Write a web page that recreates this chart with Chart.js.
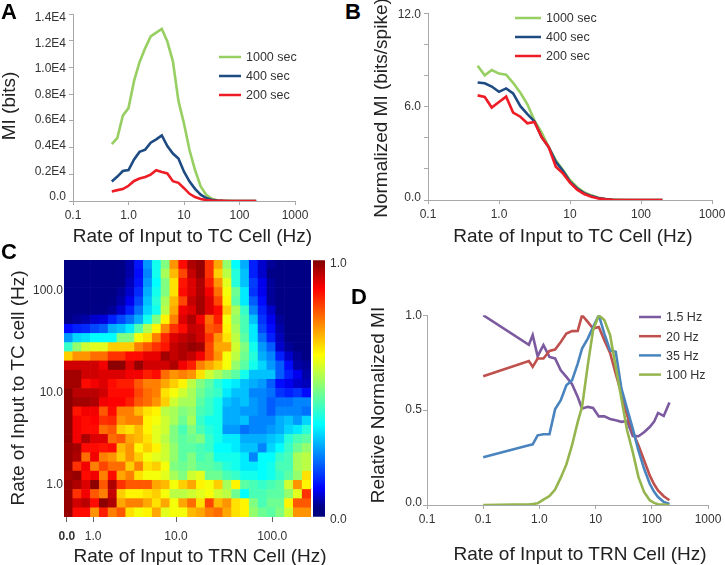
<!DOCTYPE html>
<html>
<head>
<meta charset="utf-8">
<script src="https://cdn.jsdelivr.net/npm/chart.js@4/dist/chart.umd.min.js"></script>
<style>
  html, body { margin: 0; background: #fff; }
  #page { position: relative; width: 725px; height: 565px; overflow: hidden; font-family: "Liberation Sans", Arial, sans-serif; }
  canvas { position: absolute; }
  .txt { position: absolute; line-height: 1; white-space: nowrap; color: #222; transform: translate(-50%, -50%); }
  .letter { position: absolute; line-height: 1; font-weight: bold; font-size: 22px; color: #000; }
</style>
</head>
<body>
<div id="page"></div>
<script>
// rates on the x axis of panels A and B (Hz)
const rateTC = [0.5, 0.63, 0.79, 1, 1.26, 1.58, 2, 2.51, 3.16, 3.98, 5.01, 6.31, 7.94, 10, 12.6, 15.8, 20, 25.1, 31.6, 39.8, 50.1, 63.1, 79.4, 100, 126, 158, 200];

const miA1000 = [4270, 4740, 6400, 6960, 9000, 10400, 11460, 12330, 12620, 12900, 11950, 10470, 7500, 5800, 3800, 2320, 1090, 470, 170, 50, 25, 10, 0, 0, 0, 0, 0];
const miA400 = [1460, 1830, 2250, 2320, 3110, 3680, 3850, 4370, 4620, 4915, 4120, 3560, 3190, 2200, 1460, 910, 470, 220, 100, 40, 15, 5, 0, 0, 0, 0, 0];
const miA200 = [720, 815, 890, 1140, 1500, 1680, 1800, 1980, 2300, 2170, 2070, 1480, 1360, 960, 540, 300, 150, 70, 40, 20, 10, 0, 0, 0, 0, 0, 0];

const normB1000 = [8.63, 8.01, 8.35, 8.12, 8.05, 7.53, 6.89, 6.15, 5.1, 4.35, 3.4, 2.56, 1.92, 1.29, 0.82, 0.5, 0.3, 0.15, 0.06, 0.03, 0.01, 0, 0, 0, 0, 0, 0];
const normB400 = [7.55, 7.5, 7.29, 6.95, 7.17, 6.85, 6.03, 5.52, 5.05, 4.04, 3.4, 2.45, 1.88, 1.18, 0.74, 0.44, 0.25, 0.13, 0.06, 0.02, 0, 0, 0, 0, 0, 0, 0];
const normB200 = [6.72, 6.62, 5.94, 6.3, 6.64, 5.62, 5.35, 4.93, 5.01, 4.04, 3.4, 2.14, 1.71, 1.12, 0.66, 0.38, 0.21, 0.1, 0.04, 0.01, 0, 0, 0, 0, 0, 0, 0];

// rates on the x axis of panel D (Hz)
const rateTRN = [0.1, 0.65, 0.76, 0.93, 1.18, 1.51, 1.9, 2.4, 3.02, 3.81, 4.81, 5.74, 7.25, 9.02, 11.4, 14.3, 18.1, 22.8, 28.8, 36.3, 45.8, 57.8, 72.8, 91.9, 110, 129, 163, 206];

const relD1p5 = [1, 0.844, 0.895, 0.784, 0.842, 0.78, 0.772, 0.71, 0.675, 0.636, 0.569, 0.508, 0.517, 0.511, 0.467, 0.467, 0.453, 0.446, 0.438, 0.443, 0.364, 0.362, 0.383, 0.411, 0.439, 0.485, 0.469, 0.54];
const relD20 = [0.678, 0.759, 0.728, 0.772, 0.772, 0.812, 0.819, 0.859, 0.903, 0.916, 0.917, 1, 0.965, 0.93, 0.938, 0.868, 0.801, 0.692, 0.587, 0.473, 0.385, 0.315, 0.236, 0.156, 0.109, 0.077, 0.046, 0.025];
const relD35 = [0.251, 0.315, 0.32, 0.367, 0.373, 0.373, 0.504, 0.552, 0.631, 0.657, 0.745, 0.824, 0.877, 0.938, 1, 0.903, 0.815, 0.807, 0.613, 0.508, 0.402, 0.288, 0.192, 0.112, 0.069, 0.042, 0.016, 0.005];
const relD100 = [0, 0.004, 0.005, 0.009, 0.028, 0.047, 0.081, 0.144, 0.214, 0.315, 0.438, 0.517, 0.736, 0.921, 1, 0.974, 0.895, 0.728, 0.561, 0.394, 0.279, 0.148, 0.069, 0.025, 0.011, 0.004, 0.002, 0];

// panel C, percent of max, top row first
const heatRows = [
  [3,3,3,3,3,3,4,6,13,26,38,50,74,88,96,98,84,72,52,36,28,14,8,5,3,3,3,3],
  [3,3,3,3,3,3,4,6,12,24,38,54,70,82,94,98,84,68,56,40,30,14,8,4,3,3,3,3],
  [3,3,3,3,3,3,4,7,13,26,36,50,66,87,92,96,86,74,60,40,30,17,10,5,3,3,3,3],
  [3,3,3,3,3,3,5,8,15,28,38,50,66,88,92,96,90,78,62,48,34,16,10,5,3,3,3,3],
  [3,3,3,3,3,4,6,10,18,30,40,54,70,82,94,97,92,82,64,46,34,20,12,5,3,3,3,3],
  [3,3,3,4,4,5,8,14,22,32,38,56,72,90,92,97,92,88,68,54,42,24,14,8,4,3,3,3],
  [4,5,6,8,9,14,18,22,28,38,50,64,76,92,96,90,78,86,62,52,44,30,16,10,5,3,3,3],
  [12,14,15,18,20,28,30,34,45,55,64,75,84,88,94,93,80,82,64,54,44,34,18,12,6,3,3,3],
  [26,32,33,36,36,36,50,50,62,66,76,85,92,94,96,93,84,74,66,56,46,34,22,14,7,4,3,3],
  [42,52,58,60,60,68,68,68,76,80,84,87,94,96,98,97,82,72,72,58,50,38,26,20,8,5,3,3],
  [68,74,74,78,78,84,84,88,88,91,91,97,94,96,94,90,82,74,62,56,48,40,28,24,14,8,5,4],
  [93,93,93,93,90,99,99,92,98,93,93,93,96,90,86,76,72,68,62,52,46,38,32,26,20,12,6,5],
  [97,97,93,93,92,92,92,90,90,86,88,78,74,76,74,66,58,54,50,46,38,30,30,30,20,14,10,6],
  [97,97,88,90,92,88,86,86,80,76,76,72,68,64,56,50,46,40,36,34,30,28,26,20,12,10,8,7],
  [99,95,95,95,93,88,88,88,82,78,76,66,62,58,54,48,44,42,34,30,30,24,24,22,16,14,16,12],
  [99,97,97,96,90,89,89,86,80,78,74,68,58,54,54,46,42,38,30,28,30,26,24,20,22,22,24,24],
  [99,87,90,90,80,88,76,76,70,66,64,56,54,50,52,44,42,38,28,28,26,26,24,20,24,24,24,22],
  [99,90,88,89,84,85,74,76,76,64,62,58,54,48,54,42,38,38,28,28,30,24,24,24,28,30,26,32],
  [99,90,88,88,78,80,68,66,70,64,60,58,50,44,50,44,40,38,26,26,22,24,24,26,28,32,34,40],
  [99,90,96,92,92,78,80,72,70,66,60,56,50,46,48,50,42,38,34,34,28,28,28,30,32,40,44,46],
  [98,97,88,88,87,88,70,74,64,68,64,58,52,46,46,44,42,36,36,34,30,30,24,32,36,42,48,52],
  [98,96,78,90,76,74,68,74,68,62,60,58,52,46,50,44,46,38,38,38,34,24,36,36,42,44,54,56],
  [98,84,90,76,82,78,78,68,76,66,68,62,50,48,50,46,46,44,40,38,34,34,36,38,44,44,54,56],
  [97,98,88,90,76,88,72,76,66,62,62,60,54,50,58,60,48,48,44,42,38,38,36,38,42,46,52,66],
  [98,96,92,99,80,96,84,80,80,80,72,70,62,68,72,64,62,68,54,64,46,44,42,44,46,58,74,64],
  [98,84,90,80,76,94,68,64,64,66,68,62,56,56,58,60,62,58,56,48,36,44,44,46,46,52,60,84],
  [98,93,95,88,99,96,72,76,76,72,66,72,62,72,78,66,82,70,74,66,64,50,44,48,48,64,80,80],
  [98,88,88,74,86,76,80,66,62,64,72,60,62,62,70,72,76,78,72,66,64,52,48,46,50,58,74,74]
];

// tick values and labels
const tickXAB = [0.1, 1, 10, 100, 1000];
const labelXAB = ['0.1', '1.0', '10', '100', '1000'];
const tickXD = [0.01, 0.1, 1, 10, 100, 1000];
const labelXD = ['0.1', '0.1', '1.0', '10', '100', '1000'];
const tickYA = [0, 2000, 4000, 6000, 8000, 10000, 12000, 14000];
const labelYA = ['0.0', '0.2E4', '0.4E4', '0.6E4', '0.8E4', '1.0E4', '1.2E4', '1.4E4'];
const tickYB = [0, 2, 4, 6, 8, 10, 12];
const labelYB = ['0.0', '', '', '6.0', '', '', '12.0'];
const tickYD = [0, 0.5, 1];
const labelYD = ['0.0', '0.5', '1.0'];
// heatmap ticks, in cell units from the left / bottom edge
const tickXC = [0.33, 3.3, 12.7, 23.6];
const labelXC = ['0.0', '1.0', '10.0', '100.0'];
const tickYC = [3.5, 13.5, 24.7];
const labelYC = ['1.0', '10.0', '100.0'];

const GREEN = '#97cf62', NAVY = '#1f4b83', RED = '#ee1c25';
const AXIS = '#a8a8a8', TICK = '#333';
const TICK_FONT = { family: '"Liberation Sans", Arial, sans-serif', size: 12 };
const page = document.getElementById('page');

function addCanvas(l, t, w, h) {
  const c = document.createElement('canvas');
  c.width = w; c.height = h;
  c.style.left = l + 'px'; c.style.top = t + 'px';
  c.style.width = w + 'px'; c.style.height = h + 'px';
  page.appendChild(c);
  return c;
}

function addText(text, x, y, size, rotate) {
  const d = document.createElement('div');
  d.className = 'txt';
  d.textContent = text;
  d.style.left = x + 'px'; d.style.top = y + 'px';
  d.style.fontSize = size + 'px';
  if (rotate) d.style.transform = 'translate(-50%, -50%) rotate(-90deg)';
  page.appendChild(d);
}

function addLetter(text, x, y) {
  const d = document.createElement('div');
  d.className = 'letter';
  d.textContent = text;
  d.style.left = x + 'px'; d.style.top = y + 'px';
  page.appendChild(d);
}

function fixedTicks(values, labels, extra) {
  return Object.assign({
    afterBuildTicks: s => { s.ticks = values.map(v => ({ value: v })); },
    ticks: {
      callback: (v, i) => labels[i],
      autoSkip: false, maxRotation: 0, minRotation: 0,
      color: TICK, font: TICK_FONT, padding: 3
    },
    grid: { drawOnChartArea: false, tickLength: 4, color: AXIS },
    border: { color: AXIS, width: 1 }
  }, extra);
}

const sideLegend = {
  id: 'sideLegend',
  afterDraw(chart, args, o) {
    const c = chart.ctx;
    c.save();
    c.font = '12.5px "Liberation Sans", Arial, sans-serif';
    c.textBaseline = 'middle';
    chart.data.datasets.forEach((ds, i) => {
      const y = o.y + i * o.dy;
      c.strokeStyle = ds.borderColor;
      c.lineWidth = 2.5;
      c.beginPath(); c.moveTo(o.x, y); c.lineTo(o.x + o.len, y); c.stroke();
      c.fillStyle = '#333';
      c.fillText(ds.label, o.x + o.len + 5, y + 1);
    });
    c.restore();
  }
};

// left/top/right/bottom margins of each canvas around its plot
const M = { l: 60, t: 12, r: 26, b: 32 };

// y carries the data and tick marks, yLabels only carries the tick text:
// in the figure the text sits a little off the marks, so its range is stretched
function lineChart(plot, xs, series, xTicks, xLabels, xMin, yTicks, yLabels, yMax, labelRange, legend, yPad) {
  const w = plot.r - plot.l, h = plot.b - plot.t;
  const canvas = addCanvas(plot.l - M.l, plot.t - M.t, w + M.l + M.r, h + M.t + M.b);
  new Chart(canvas, {
    type: 'line',
    data: {
      datasets: series.map(s => ({
        label: s.label,
        data: s.data.map((v, i) => ({ x: xs[i], y: v })),
        borderColor: s.color,
        borderWidth: 2.6,
        pointRadius: 0,
        tension: 0,
        fill: false,
        order: s.order,
        yAxisID: 'y'
      }))
    },
    options: {
      responsive: false,
      animation: false,
      devicePixelRatio: 1,
      layout: { padding: { top: M.t, right: M.r, left: 0, bottom: 0 } },
      plugins: { legend: { display: false }, tooltip: { enabled: false }, sideLegend: legend },
      scales: {
        x: fixedTicks(xTicks, xLabels, {
          type: 'logarithmic', min: xMin, max: 1000,
          afterFit: s => { s.height = M.b; }
        }),
        y: fixedTicks(yTicks, yLabels, {
          min: 0, max: yMax, weight: 0,
          afterFit: s => { s.width = 0; },
          ticks: { display: false }
        }),
        yLabels: fixedTicks(yTicks, yLabels, {
          type: 'linear', position: 'left', weight: 1,
          min: labelRange[0], max: labelRange[1],
          afterFit: s => { s.width = M.l; },
          border: { display: false },
          grid: { display: false, drawTicks: false },
          ticks: { callback: (v, i) => yLabels[i], autoSkip: false, color: TICK, font: TICK_FONT, padding: yPad + 4 }
        })
      }
    },
    plugins: [sideLegend]
  });
}

lineChart({ l: 73, r: 295, t: 12, b: 201 }, rateTC, [
  { label: '1000 sec', data: miA1000, color: GREEN, order: 3 },
  { label: '400 sec', data: miA400, color: NAVY, order: 2 },
  { label: '200 sec', data: miA200, color: RED, order: 1 }
], tickXAB, labelXAB, 0.1, tickYA, labelYA, 14000, [-333, 14286], { x: 206, y: 57, dy: 19, len: 22 }, 3);

lineChart({ l: 428, r: 712, t: 11, b: 200 }, rateTC, [
  { label: '1000 sec', data: normB1000, color: GREEN, order: 3 },
  { label: '400 sec', data: normB400, color: NAVY, order: 2 },
  { label: '200 sec', data: normB200, color: RED, order: 1 }
], tickXAB, labelXAB, 0.1, tickYB, labelYB, 12, [-0.15, 12.11], { x: 147, y: 19, dy: 19, len: 26 }, 3);

lineChart({ l: 427, r: 708, t: 315, b: 505 }, rateTRN, [
  { label: '1.5 Hz', data: relD1p5, color: '#7b5aa0', order: 4 },
  { label: '20 Hz', data: relD20, color: '#bf504d', order: 3 },
  { label: '35 Hz', data: relD35, color: '#4a84bf', order: 2 },
  { label: '100 Hz', data: relD100, color: '#95b54e', order: 1 }
], tickXD, labelXD, 0.01, tickYD, labelYD, 1, [-0.012, 1.005], { x: 272, y: 14, dy: 19.2, len: 22 }, 1);

// jet colour map, same as the colour bar
const JET = [[0, 0, 0, 125], [0.04, 0, 0, 135], [0.11, 0, 0, 255], [0.36, 0, 255, 255], [0.5, 128, 255, 128], [0.63, 255, 255, 0], [0.89, 255, 0, 0], [1, 128, 0, 0]];
function jet(v) {
  for (let i = 1; i < JET.length; i++) {
    if (v <= JET[i][0]) {
      const a = JET[i - 1], b = JET[i], t = (v - a[0]) / (b[0] - a[0]);
      return `rgb(${[1, 2, 3].map(k => Math.round(a[k] + (b[k] - a[k]) * t)).join(',')})`;
    }
  }
  return 'rgb(128,0,0)';
}

// heatmap: one stacked bar dataset per row, one bar per column
const heatPlot = { l: 64, r: 311, t: 260, b: 517 };
const nCols = heatRows[0].length, nRows = heatRows.length;
const heatCanvas = addCanvas(heatPlot.l - M.l, heatPlot.t - M.t, 247 + M.l + 10, 257 + M.t + M.b);
new Chart(heatCanvas, {
  type: 'bar',
  data: {
    datasets: heatRows.slice().reverse().map(row => ({
      data: row.map((v, col) => ({ x: col + 0.5, y: 1 })),
      backgroundColor: row.map(v => jet(v / 100)),
      borderWidth: 0,
      barPercentage: 1,
      categoryPercentage: 1
    }))
  },
  options: {
    responsive: false,
    animation: false,
    devicePixelRatio: 1,
    layout: { padding: { top: M.t, right: 10, left: 0, bottom: 0 } },
    plugins: { legend: { display: false }, tooltip: { enabled: false } },
    scales: {
      x: fixedTicks(tickXC, labelXC, {
        type: 'linear', min: 0, max: nCols, stacked: true, offset: false,
        afterFit: s => { s.height = M.b; },
        border: { display: false },
        grid: { drawOnChartArea: false, tickLength: 5, color: '#666', offset: false },
        ticks: {
          callback: (v, i) => labelXC[i],
          autoSkip: false, maxRotation: 0, minRotation: 0, color: TICK, padding: 7,
          font: c => c.index === 0 ? { family: TICK_FONT.family, size: 12, weight: 'bold' } : TICK_FONT
        }
      }),
      y: fixedTicks(tickYC, labelYC, {
        type: 'linear', min: 0, max: nRows, stacked: true,
        afterFit: s => { s.width = M.l; },
        border: { display: false },
        grid: { display: false, drawTicks: false },
        ticks: { callback: (v, i) => labelYC[i], autoSkip: false, color: TICK, font: TICK_FONT, padding: 1 }
      })
    }
  }
});

// colour bar
const barTicks = [0, 1], barLabels = ['0.0', '1.0'];
const barCanvas = addCanvas(313, heatPlot.t - M.t, 12 + 40, 257 + M.t * 2);
new Chart(barCanvas, {
  type: 'bar',
  data: {
    labels: [''],
    datasets: [{
      data: [1],
      borderWidth: 0,
      barPercentage: 1,
      categoryPercentage: 1,
      backgroundColor: c => {
        const area = c.chart.chartArea;
        if (!area) return 'transparent';
        const g = c.chart.ctx.createLinearGradient(0, area.bottom, 0, area.top);
        JET.forEach(s => g.addColorStop(s[0], `rgb(${s[1]},${s[2]},${s[3]})`));
        return g;
      }
    }]
  },
  options: {
    responsive: false,
    animation: false,
    devicePixelRatio: 1,
    layout: { padding: { top: M.t, bottom: M.t, left: 0, right: 0 } },
    plugins: { legend: { display: false }, tooltip: { enabled: false } },
    scales: {
      x: { display: false },
      y: fixedTicks(barTicks, barLabels, {
        position: 'right', min: 0, max: 1,
        afterFit: s => { s.width = 40; },
        border: { display: false },
        grid: { display: false, drawTicks: false },
        ticks: { callback: (v, i) => barLabels[i], color: TICK, font: TICK_FONT, padding: 5, labelOffset: 3 }
      })
    }
  }
});

// axis titles and panel letters
const TITLE = 19;
addText('Rate of Input to TC Cell (Hz)', 192.5, 235, TITLE);
addText('Rate of Input to TC Cell (Hz)', 573, 235, TITLE);
addText('Rate of Input to TRN Cell (Hz)', 200, 555, TITLE);
addText('Rate of Input to TRN Cell (Hz)', 580, 553, TITLE);
addText('MI (bits)', 8, 106, TITLE, true);
addText('Normalized MI (bits/spike)', 380, 108, TITLE, true);
addText('Rate of Input to TC cell (Hz)', 17, 388, TITLE, true);
addText('Relative Normalized MI', 377, 405, TITLE, true);
addLetter('A', 1, 1);
addLetter('B', 345, 1);
addLetter('C', 1, 241);
addLetter('D', 351, 286);
</script>
</body>
</html>
